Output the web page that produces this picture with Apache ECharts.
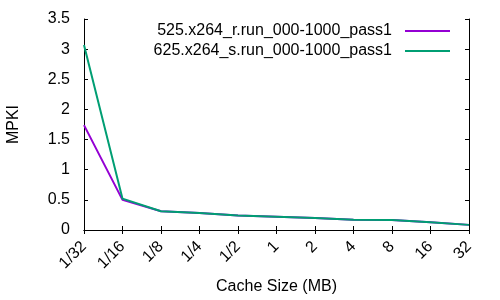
<!DOCTYPE html>
<html>
<head>
<meta charset="utf-8">
<script src="https://cdn.jsdelivr.net/npm/echarts@6/dist/echarts.min.js"></script>
<style>
html, body { margin: 0; padding: 0; background: #fff; }
#chart { width: 500px; height: 300px; }
</style>
</head>
<body>
<div id="chart"></div>
<script>
// 数据
var cacheSizes = ['1/32', '1/16', '1/8', '1/4', '1/2', '1', '2', '4', '8', '16', '32'];
var seriesNames = ['525.x264_r.run_000-1000_pass1', '625.x264_s.run_000-1000_pass1'];
var mpkiR = [1.74, 0.50, 0.31, 0.28, 0.24, 0.22, 0.20, 0.17, 0.165, 0.13, 0.085];
var mpkiS = [3.07, 0.52, 0.31, 0.28, 0.24, 0.22, 0.20, 0.17, 0.165, 0.13, 0.085];
var yTicks = [0, 3.5, 0.5]; // min, max, interval

var font = 'Liberation Sans, Arial, sans-serif';
var chart = echarts.init(document.getElementById('chart'));

var tickStyle = { show: true, inside: true, length: 4, lineStyle: { color: '#000' } };

var option = {
	animation: false,
	color: ['#9400d3', '#009e73'],
	grid: { left: 84, right: 31, top: 19, bottom: 70, containLabel: false, outerBoundsMode: 'none' },
	legend: {
		orient: 'vertical',
		right: 50,
		top: 22,
		align: 'right',
		icon: 'rect',
		itemWidth: 45,
		itemHeight: 2,
		itemGap: 2,
		padding: 0,
		textStyle: { fontFamily: font, fontSize: 16, color: '#000', lineHeight: 18, padding: [0, 8, 0, 0] },
		data: seriesNames
	},
	xAxis: [{
		type: 'category',
		boundaryGap: false,
		data: cacheSizes,
		name: 'Cache Size (MB)',
		nameLocation: 'middle',
		nameGap: 48,
		nameTextStyle: { fontFamily: font, fontSize: 16, color: '#000' },
		axisLine: { lineStyle: { color: '#000', width: 1 } },
		axisTick: tickStyle,
		axisLabel: { rotate: 45, fontFamily: font, fontSize: 16, color: '#000', margin: 14 },
		splitLine: { show: false }
	}, {
		type: 'category',
		boundaryGap: false,
		data: cacheSizes,
		position: 'top',
		axisLine: { lineStyle: { color: '#000', width: 1 } },
		axisTick: tickStyle,
		axisLabel: { show: false },
		splitLine: { show: false }
	}],
	yAxis: [{
		type: 'value',
		min: yTicks[0],
		max: yTicks[1],
		interval: yTicks[2],
		name: 'MPKI',
		nameLocation: 'middle',
		nameGap: 62,
		nameTextStyle: { fontFamily: font, fontSize: 16, color: '#000' },
		axisLine: { show: true, lineStyle: { color: '#000', width: 1 } },
		axisTick: tickStyle,
		axisLabel: { fontFamily: font, fontSize: 16, color: '#000', margin: 14 },
		splitLine: { show: false }
	}, {
		type: 'value',
		min: yTicks[0],
		max: yTicks[1],
		interval: yTicks[2],
		position: 'right',
		axisLine: { show: true, lineStyle: { color: '#000', width: 1 } },
		axisTick: tickStyle,
		axisLabel: { show: false },
		splitLine: { show: false }
	}],
	series: [{
		name: seriesNames[0],
		type: 'line',
		symbol: 'none',
		lineStyle: { width: 2 },
		data: mpkiR
	}, {
		name: seriesNames[1],
		type: 'line',
		symbol: 'none',
		lineStyle: { width: 2 },
		data: mpkiS
	}]
};
chart.setOption(option);
</script>
</body>
</html>
